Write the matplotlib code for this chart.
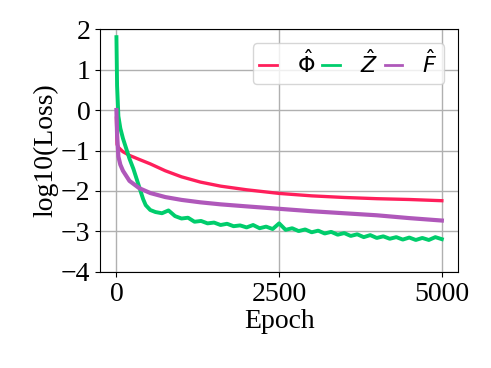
import matplotlib
matplotlib.use("Agg")
import matplotlib.pyplot as plt

# ---- data (log10 loss vs epoch) ---------------------------------------
epochs_phi = [0, 10, 30, 100, 200, 350, 520, 750, 1000, 1290, 1600, 2000,
              2500, 3000, 3500, 4000, 4500, 5000]
loss_phi = [-0.2, -0.85, -0.92, -1.03, -1.12, -1.22, -1.33, -1.5, -1.65,
            -1.78, -1.88, -1.97, -2.06, -2.12, -2.16, -2.19, -2.21, -2.24]

epochs_z = [0, 10, 30, 60, 100, 150, 200, 260, 300, 350, 410, 450, 520, 600,
            700, 800, 900, 1000, 1100, 1200, 1300, 1400, 1500, 1600, 1700,
            1800, 1900, 2000, 2100, 2200, 2300, 2400, 2500, 2600, 2700, 2800,
            2900, 3000, 3100, 3200, 3300, 3400, 3500, 3600, 3700, 3800, 3900,
            4000, 4100, 4200, 4300, 4400, 4500, 4600, 4700, 4800, 4900, 5000]
loss_z = [1.8, 0.6, -0.15, -0.45, -0.7, -0.95, -1.2, -1.45, -1.65, -1.9,
          -2.2, -2.35, -2.47, -2.52,
          -2.55, -2.48, -2.62, -2.68, -2.66, -2.76, -2.74, -2.80, -2.78, -2.84,
          -2.81, -2.87, -2.85, -2.90, -2.84, -2.92, -2.88, -2.94, -2.80, -2.96,
          -2.92, -2.99, -2.95, -3.02, -2.98, -3.05, -3.01, -3.08, -3.04, -3.11,
          -3.07, -3.14, -3.09, -3.16, -3.12, -3.18, -3.14, -3.20, -3.15, -3.21,
          -3.16, -3.21, -3.14, -3.19]

epochs_f = [0, 10, 30, 60, 100, 200, 350, 520, 750, 1000, 1290, 1600, 2000,
            2500, 3000, 3500, 4000, 4500, 5000]
loss_f = [0.0, -0.6, -1.15, -1.35, -1.5, -1.75, -1.93, -2.05, -2.15, -2.22,
          -2.28, -2.33, -2.38, -2.44, -2.5, -2.55, -2.6, -2.67, -2.73]

labels = [r"$\hat{\Phi}$", r"$\hat{Z}$", r"$\hat{F}$"]
colors = ["#FF1F5B", "#00CD6C", "#AF58BA"]

# ---- plot ---------------------------------------------------------------
plt.rcParams["font.family"] = ["Liberation Serif", "DejaVu Serif"]
plt.rcParams["mathtext.fontset"] = "dejavusans"
plt.rcParams["font.size"] = 20

fig = plt.figure(figsize=(4.91, 3.68), dpi=100)
ax = fig.add_axes([0.204, 0.261, 0.729, 0.660])

ax.plot(epochs_phi, loss_phi, color=colors[0], lw=2.4, label=labels[0])
ax.plot(epochs_z, loss_z, color=colors[1], lw=2.8, label=labels[1])
ax.plot(epochs_f, loss_f, color=colors[2], lw=3.0, label=labels[2])

ax.set_xlim(-250, 5250)
ax.set_ylim(-4, 2)
ax.set_xticks([0, 2500, 5000])
ax.set_yticks(range(-4, 3))
ax.grid(True, color="#b0b0b0", lw=1.0)
ax.set_axisbelow(True)
ax.set_xlabel("Epoch", labelpad=2)
ax.set_ylabel("log10(Loss)", labelpad=2)

leg = ax.legend(loc="upper right", ncol=3, handlelength=0.8, handletextpad=0.9,
                columnspacing=0.3, borderpad=0.3, borderaxespad=0, fontsize=16,
                bbox_to_anchor=(0.961, 0.942), framealpha=0.8,
                edgecolor="#cccccc")
for h in leg.get_lines():
    h.set_linewidth(2.0)

fig.savefig("out.png", dpi=100)
